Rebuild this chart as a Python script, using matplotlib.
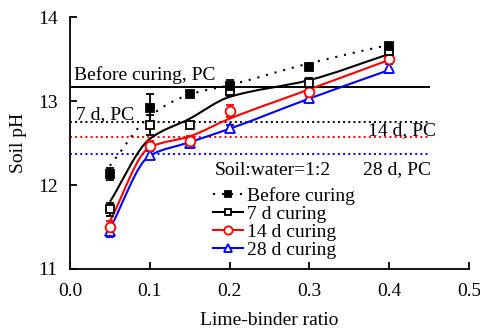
import numpy as np
import matplotlib.pyplot as plt
from matplotlib.path import Path
from matplotlib.patches import PathPatch
from matplotlib.lines import Line2D

plt.rcParams['font.family'] = ['Liberation Serif', 'DejaVu Serif']
plt.rcParams['font.size'] = 14

ratio = [0.05, 0.1, 0.15, 0.2, 0.3, 0.4]

# measured soil pH (mean and error)
ph_before = [12.13, 12.92, 13.08, 13.18, 13.41, 13.66]
err_before = [0.07, 0.17, 0.0, 0.07, 0.03, 0.03]
ph_7d = [11.71, 12.71, 12.71, 13.12, 13.21, 13.60]
err_7d = [0.08, 0.12, 0.03, 0.06, 0.06, 0.03]
ph_14d = [11.50, 12.47, 12.53, 12.88, 13.11, 13.50]
err_14d = [0.07, 0.05, 0.05, 0.07, 0.05, 0.12]
ph_28d = [11.45, 12.36, 12.50, 12.68, 13.04, 13.39]
err_28d = [0.07, 0.05, 0.06, 0.04, 0.05, 0.05]

# smoothed trend curves
fit_before = [12.23, 12.82, 13.08, 13.19, 13.45, 13.67]
fit_7d = [11.80, 12.55, 12.79, 13.05, 13.25, 13.56]
fit_14d = [11.57, 12.45, 12.58, 12.79, 13.14, 13.49]
fit_28d = [11.48, 12.35, 12.51, 12.67, 13.03, 13.37]

# pH of plain PC reference
pc_levels = [13.17, 12.75, 12.575, 12.365]


def smooth_path(x, y):
    # monotone cubic (harmonic-mean tangents) written as Bezier segments
    x = np.asarray(x, float)
    y = np.asarray(y, float)
    h = np.diff(x)
    d = np.diff(y) / h
    m = np.zeros_like(y)
    m[0], m[-1] = d[0], d[-1]
    for i in range(1, len(y) - 1):
        if d[i - 1] * d[i] > 0:
            m[i] = 2 * d[i - 1] * d[i] / (d[i - 1] + d[i])
    verts = [(x[0], y[0])]
    codes = [Path.MOVETO]
    for i in range(len(x) - 1):
        verts += [(x[i] + h[i] / 3, y[i] + m[i] * h[i] / 3),
                  (x[i + 1] - h[i] / 3, y[i + 1] - m[i + 1] * h[i] / 3),
                  (x[i + 1], y[i + 1])]
        codes += [Path.CURVE4] * 3
    return Path(verts, codes)


fig = plt.figure(figsize=(4.81, 3.29), dpi=100)
ax = fig.add_axes([0.1455, 0.1824, 0.8295, 0.7656])

dotted = (0, (1, 3.3))
series = [
    (ph_before, err_before, fit_before, 'k', 's', 'k', dotted, 'Before curing'),
    (ph_7d, err_7d, fit_7d, 'k', 's', 'white', '-', '7 d curing'),
    (ph_14d, err_14d, fit_14d, 'red', 'o', 'white', '-', '14 d curing'),
    (ph_28d, err_28d, fit_28d, 'blue', '^', 'white', '-', '28 d curing'),
]

# reference lines for PC
ax.plot([0, 0.45], [pc_levels[0]] * 2, color='k', lw=1.4)
ax.plot([0, 0.45], [pc_levels[1]] * 2, color='k', lw=1.4, ls=':')
ax.plot([0, 0.45], [pc_levels[2]] * 2, color='red', lw=1.4, ls=':')
ax.plot([0, 0.45], [pc_levels[3]] * 2, color='blue', lw=1.4, ls=':')

handles = []
for ph, err, fit, col, mk, fc, ls, lab in series[::-1]:
    ax.add_patch(PathPatch(smooth_path(ratio, fit), fill=False,
                           edgecolor=col, lw=1.5, linestyle=ls, zorder=2))
    ax.errorbar(ratio, ph, yerr=err, fmt=mk, color=col, mfc=fc, mec=col,
                ms=7 if mk != 's' else 6, mew=1.3, ecolor=col, elinewidth=1.3,
                capsize=3, capthick=1.3, zorder=3)
for ph, err, fit, col, mk, fc, ls, lab in series:
    handles.append(Line2D([], [], color=col, ls=ls, lw=1.5, marker=mk,
                          mfc=fc, mec=col, ms=6 if mk != 's' else 5, mew=1.3,
                          label=lab))

ax.text(0.005, 13.25, 'Before curing, PC')
ax.text(0.0075, 12.79, '7 d, PC')
ax.text(0.4586, 12.60, '14 d, PC', ha='right')
ax.text(0.453, 12.13, '28 d, PC', ha='right')
ax.text(0.1817, 12.12, 'Soil:water=1:2')

ax.legend(handles=handles, loc='upper left', bbox_to_anchor=(0.358, 0.325),
          frameon=False, borderpad=0, borderaxespad=0, handlelength=1.55,
          handletextpad=0.2, labelspacing=0.02, numpoints=1)

ax.set_xlim(0, 0.5)
ax.set_ylim(11, 14)
ax.set_xticks([0, 0.1, 0.2, 0.3, 0.4, 0.5])
ax.set_xticklabels(['0.0', '0.1', '0.2', '0.3', '0.4', '0.5'])
ax.set_yticks([11, 12, 13, 14])
ax.spines['top'].set_visible(False)
ax.spines['right'].set_visible(False)
ax.spines['left'].set_linewidth(1.3)
ax.spines['bottom'].set_linewidth(1.3)
ax.tick_params(direction='in', length=5, width=1.3)
ax.tick_params(axis='x', pad=10)
ax.tick_params(axis='y', pad=9)
ax.set_xlabel('Lime-binder ratio', labelpad=9)
ax.set_ylabel('Soil pH', labelpad=8)

fig.savefig('out.png', dpi=100)
